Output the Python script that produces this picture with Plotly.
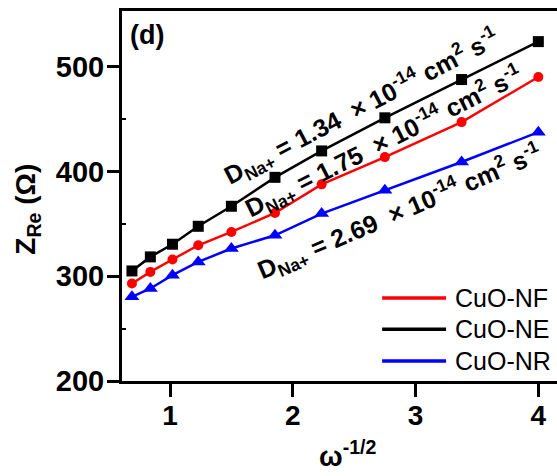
import plotly.graph_objects as go

# ---- data ----
omega_inv_sqrt = [0.69, 0.84, 1.02, 1.23, 1.50, 1.855, 2.235, 2.75, 3.375, 4.00]
z_ne = [305, 318.4, 330.5, 347.6, 366.7, 394.3, 419.5, 451.1, 487.6, 523.8]   # CuO-NE (black)
z_nf = [293, 304.1, 315.9, 329.5, 342.2, 360.3, 387.6, 413.6, 447, 490]       # CuO-NF (red)
z_nr = [280.3, 288.3, 301, 313.6, 326.4, 339, 359.7, 381.9, 408.9, 437.4]     # CuO-NR (blue)

series_names = ["CuO-NF", "CuO-NE", "CuO-NR"]
series_colors = ["#ff0000", "#000000", "#0000ff"]
d_values = ["1.75", "1.34", "2.69"]

x_ticks = [1, 2, 3, 4]
y_ticks = [200, 300, 400, 500]

FONT = "Liberation Sans, Arial, sans-serif"

fig = go.Figure()

fig.add_trace(go.Scatter(x=omega_inv_sqrt, y=z_ne, mode="lines+markers",
                         line=dict(color=series_colors[1], width=2.5),
                         marker=dict(symbol="square", size=11, color=series_colors[1]),
                         showlegend=False))
fig.add_trace(go.Scatter(x=omega_inv_sqrt, y=z_nf, mode="lines+markers",
                         line=dict(color=series_colors[0], width=2.5),
                         marker=dict(symbol="circle", size=10, color=series_colors[0]),
                         showlegend=False))
fig.add_trace(go.Scatter(x=omega_inv_sqrt, y=z_nr, mode="lines+markers",
                         line=dict(color=series_colors[2], width=2.5),
                         marker=dict(symbol="triangle-up", size=13, color=series_colors[2]),
                         showlegend=False))

# ---- manual legend (lines only) ----
leg_rows_y = [0.224, 0.140, 0.054]
for name, col, yy in zip(series_names, series_colors, leg_rows_y):
    fig.add_shape(type="line", xref="paper", yref="paper", x0=0.598, x1=0.745,
                  y0=yy, y1=yy, line=dict(color=col, width=3.5))
    fig.add_annotation(xref="paper", yref="paper", x=0.762, y=yy, text=name,
                       showarrow=False, xanchor="left", yanchor="middle",
                       font=dict(family=FONT, size=25, color="black"))

# ---- diffusion coefficient annotations ----
ann_pos = [(2.74, 428.0, -26.5), (2.56, 461.0, -27.5), (2.87, 361.0, -23.0)]
for dv, (ax, ay, ang) in zip(d_values, ann_pos):
    fig.add_annotation(xref="x", yref="y", x=ax, y=ay, showarrow=False,
                       textangle=ang, xanchor="center", yanchor="middle",
                       text=("D<sub>Na+</sub> = " + dv + "\u00a0 \u00d7 10<sup>-14</sup> cm<sup>2</sup> s<sup>-1</sup>"),
                       font=dict(family=FONT, size=25, color="black", weight="bold"))

# panel label
fig.add_annotation(xref="paper", yref="paper", x=0.013, y=0.935, text="(d)",
                   showarrow=False, xanchor="left", yanchor="middle",
                   font=dict(family=FONT, size=27, color="black", weight="bold"))

# axis titles as annotations
fig.add_annotation(xref="paper", yref="paper", x=0.519, y=-0.2507,
                   text="\u03c9<sup>-1/2</sup>", showarrow=False,
                   xanchor="center", yanchor="bottom",
                   font=dict(family=FONT, size=28, color="black", weight="bold"))
fig.add_annotation(xref="paper", yref="paper", x=-0.216, y=0.463,
                   text="Z<sub>Re</sub> (\u03a9)", showarrow=False, textangle=-90,
                   xanchor="center", yanchor="middle",
                   font=dict(family=FONT, size=28, color="black", weight="bold"))

fig.update_xaxes(range=[0.609, 4.152], tickvals=x_ticks, ticktext=[str(v) for v in x_ticks],
                 ticks="outside", ticklen=13, tickwidth=2.5, tickcolor="black",
                 ticklabelstandoff=-6,
                 showline=True, linewidth=3, linecolor="black", mirror=True,
                 showgrid=False, zeroline=False,
                 tickfont=dict(family=FONT, size=28, color="black", weight="bold"))
fig.update_yaxes(range=[200, 553], tickvals=y_ticks, ticktext=[str(v) for v in y_ticks],
                 ticks="outside", ticklen=12, tickwidth=2.5, tickcolor="black",
                 ticklabelstandoff=-3,
                 showline=True, linewidth=3, linecolor="black", mirror=False,
                 showgrid=False, zeroline=False,
                 minor=dict(ticks="inside", ticklen=4, tickwidth=2, tickcolor="black",
                            tickvals=[250, 350, 450], showgrid=False),
                 tickfont=dict(family=FONT, size=29, color="black", weight="bold"))

fig.update_layout(width=557, height=476, autosize=False,
                  margin=dict(l=122, r=0, t=11, b=95),
                  plot_bgcolor="white", paper_bgcolor="white",
                  showlegend=False)

fig.write_html("out.html")
